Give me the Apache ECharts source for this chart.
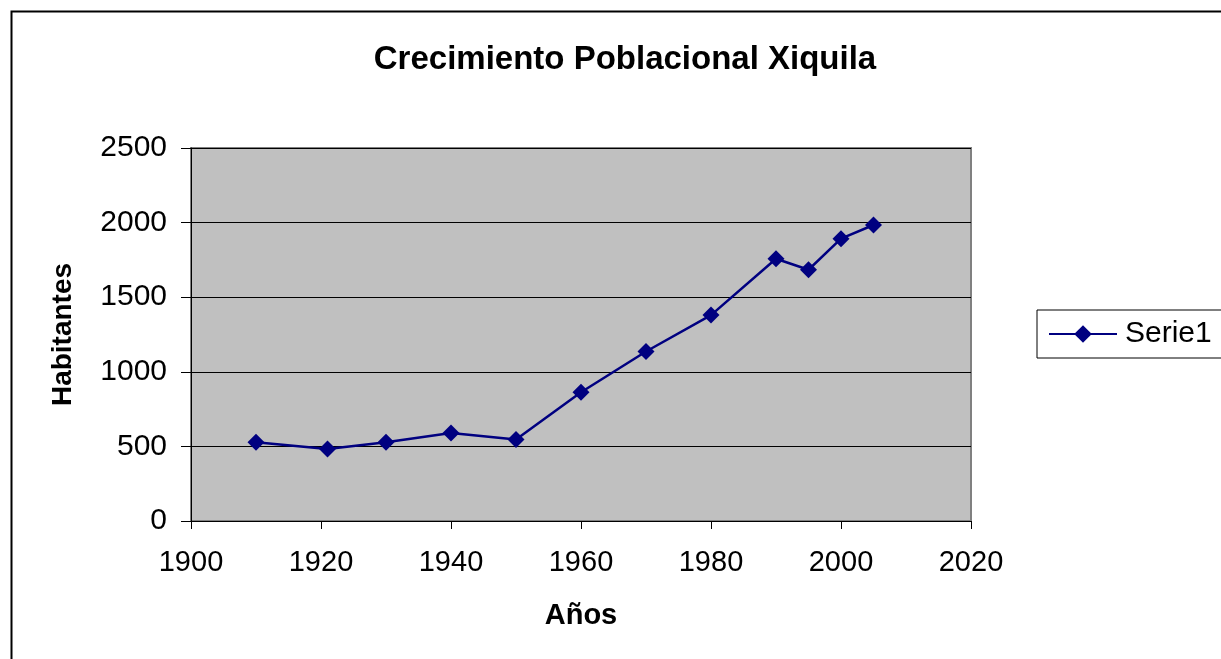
<!DOCTYPE html>
<html>
<head>
<meta charset="utf-8">
<script src="https://cdn.jsdelivr.net/npm/echarts@6/dist/echarts.min.js"></script>
<style>
html,body{margin:0;padding:0;background:#fff;}
#c{width:1221px;height:659px;}
</style>
</head>
<body>
<div id="c"></div>
<script>
const years = [1910, 1921, 1930, 1940, 1950, 1960, 1970, 1980, 1990, 1995, 2000, 2005];
const habitantes = [528, 483, 528, 590, 546, 863, 1136, 1380, 1758, 1684, 1892, 1984];
const seriesName = 'Serie1';
const titleText = 'Crecimiento Poblacional Xiquila';
const xName = 'Años';
const yName = 'Habitantes';

const data = years.map((y, i) => [y, habitantes[i]]);
const F = 'Liberation Sans, Arial, sans-serif';

const chart = echarts.init(document.getElementById('c'), null, {renderer: 'canvas'});
chart.setOption({
  animation: false,
  backgroundColor: '#fff',
  graphic: [{
    type: 'rect', left: 9, top: 9, silent: true,
    shape: {x: 0, y: 0, width: 1240, height: 700},
    style: {fill: 'none', stroke: '#000', lineWidth: 2}
  }],
  title: {
    text: titleText, left: 620, top: 38, textAlign: 'center',
    textStyle: {fontFamily: F, fontWeight: 'bold', fontSize: 33, color: '#000'}
  },
  legend: {
    left: 1037, top: 310, orient: 'vertical',
    borderColor: '#000', borderWidth: 1, borderRadius: 0,
    padding: [9, 10, 9, 11],
    itemWidth: 68, itemHeight: 22, itemGap: 0,
    textStyle: {fontFamily: F, fontSize: 30, color: '#000', padding: [0, 0, 0, 3]},
    data: [seriesName]
  },
  grid: {
    left: 191, top: 148, right: 250, bottom: 138,
    show: true, backgroundColor: '#c0c0c0', borderColor: '#808080', borderWidth: 2
  },
  xAxis: {
    type: 'value', min: 1900, max: 2020, interval: 20,
    name: xName, nameLocation: 'middle', nameGap: 80,
    nameTextStyle: {fontFamily: F, fontWeight: 'bold', fontSize: 29, color: '#000'},
    axisLine: {show: true, onZero: false, lineStyle: {color: '#000', width: 1}},
    axisTick: {show: true, inside: false, length: 8, lineStyle: {color: '#000'}},
    axisLabel: {fontFamily: F, fontSize: 29, color: '#000', margin: 27, formatter: v => String(v)},
    splitLine: {show: false}
  },
  yAxis: {
    type: 'value', min: 0, max: 2500, interval: 500,
    name: yName, nameLocation: 'middle', nameGap: 114, nameRotate: 90,
    nameTextStyle: {fontFamily: F, fontWeight: 'bold', fontSize: 28, color: '#000'},
    axisLine: {show: true, lineStyle: {color: '#000', width: 1}},
    axisTick: {show: true, inside: false, length: 10, lineStyle: {color: '#000'}},
    axisLabel: {fontFamily: F, fontSize: 30, color: '#000', margin: 24, formatter: v => String(v)},
    splitLine: {show: true, lineStyle: {color: '#000', width: 1}}
  },
  series: [{
    name: seriesName, type: 'line', data: data,
    symbol: 'diamond', symbolSize: 17,
    lineStyle: {color: '#000080', width: 2.5},
    itemStyle: {color: '#000080'}
  }]
});
</script>
</body>
</html>
